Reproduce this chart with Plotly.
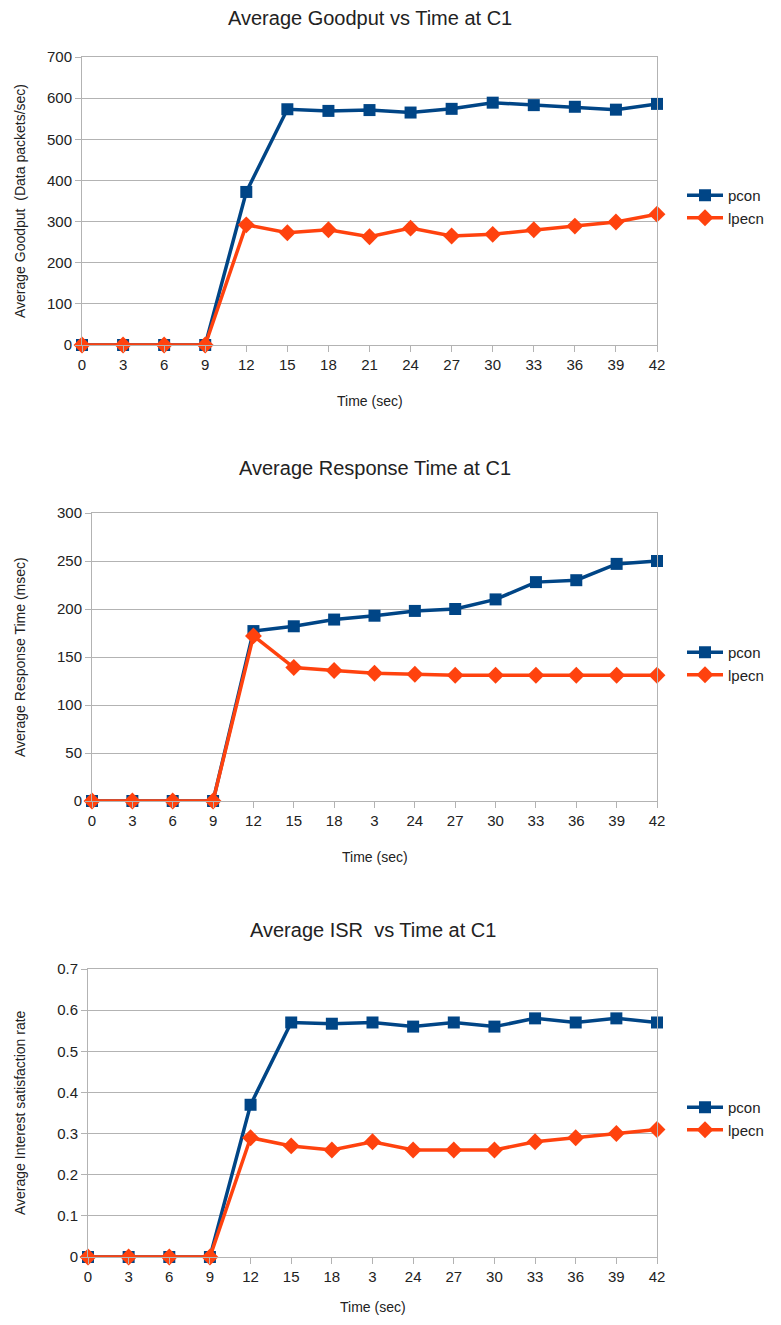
import plotly.graph_objects as go

# ---------------- data ----------------
time_labels_1 = ["0", "3", "6", "9", "12", "15", "18", "21", "24", "27", "30", "33", "36", "39", "42"]
time_labels_2 = ["0", "3", "6", "9", "12", "15", "18", "3", "24", "27", "30", "33", "36", "39", "42"]
time_labels_3 = ["0", "3", "6", "9", "12", "15", "18", "3", "24", "27", "30", "33", "36", "39", "42"]

goodput_pcon = [0, 0, 0, 0, 372, 573, 569, 571, 565, 574, 589, 583, 579, 572, 586]
goodput_lpecn = [0, 0, 0, 0, 292, 273, 280, 263, 284, 265, 269, 280, 289, 299, 318]

resp_pcon = [0, 0, 0, 0, 177, 182, 189, 193, 198, 200, 210, 228, 230, 247, 250]
resp_lpecn = [0, 0, 0, 0, 172, 139, 136, 133, 132, 131, 131, 131, 131, 131, 131]

isr_pcon = [0, 0, 0, 0, 0.37, 0.57, 0.567, 0.57, 0.56, 0.57, 0.56, 0.58, 0.57, 0.58, 0.57]
isr_lpecn = [0, 0, 0, 0, 0.29, 0.27, 0.26, 0.28, 0.26, 0.26, 0.26, 0.28, 0.29, 0.30, 0.31]

titles = ["Average Goodput vs Time at C1", "Average Response Time at C1", "Average ISR  vs Time at C1"]
y_titles = ["Average Goodput  (Data packets/sec)", "Average Response Time (msec)", "Average Interest satisfaction rate"]
x_title = "Time (sec)"
y_ranges = [[0, 700], [0, 300], [0, 0.7]]
y_dticks = [100, 50, 0.1]

# ---------------- layout helpers ----------------
W, H = 781, 1325          # window size
OFF = 8                   # default page body margin
FW, FH = W - 2 * OFF, H - 2 * OFF   # figure size
BLUE = "#004586"
ORANGE = "#ff420e"
FONT = "Liberation Sans, Arial, sans-serif"


def px_x(x):
    return (x - OFF) / FW


def px_y(y):
    return 1 - (y - OFF) / FH


# pixel boxes in window coordinates: (left, right, top, bottom)
boxes = [(82, 657, 57, 345), (92, 657, 513, 801), (88, 657, 969, 1257)]
title_y = [18, 468, 930]
legend_y = [196, 653, 1108]

panels = [
    (time_labels_1, goodput_pcon, goodput_lpecn),
    (time_labels_2, resp_pcon, resp_lpecn),
    (time_labels_3, isr_pcon, isr_lpecn),
]

fig = go.Figure()
annotations = []
layout = {}

for i, (labels, pcon, lpecn) in enumerate(panels):
    n = i + 1
    xa = "x" if n == 1 else f"x{n}"
    ya = "y" if n == 1 else f"y{n}"
    leg = "legend" if n == 1 else f"legend{n}"
    xs = list(range(len(labels)))
    fig.add_trace(go.Scatter(
        x=xs, y=pcon, name="pcon", xaxis=xa, yaxis=ya, legend=leg,
        mode="lines+markers", cliponaxis=False,
        line=dict(color=BLUE, width=3.5),
        marker=dict(symbol="square", size=12, color=BLUE),
    ))
    fig.add_trace(go.Scatter(
        x=xs, y=lpecn, name="lpecn", xaxis=xa, yaxis=ya, legend=leg,
        mode="lines+markers", cliponaxis=False,
        line=dict(color=ORANGE, width=3.5),
        marker=dict(symbol="diamond", size=13, color=ORANGE),
    ))
    l, r, t, b = boxes[i]
    xkey = "xaxis" if n == 1 else f"xaxis{n}"
    ykey = "yaxis" if n == 1 else f"yaxis{n}"
    layout[xkey] = dict(
        domain=[px_x(l), px_x(r)], anchor=ya, range=[0, len(labels) - 1], automargin=False,
        tickmode="array", tickvals=xs, ticktext=labels,
        showgrid=False, zeroline=False,
        showline=True, linecolor="#b3b3b3", linewidth=1, mirror=True,
        ticks="outside", ticklen=6, tickcolor="#b3b3b3",
        tickfont=dict(family=FONT, size=15, color="#222222"),
    )
    layout[ykey] = dict(
        domain=[px_y(b), px_y(t)], anchor=xa, range=y_ranges[i], dtick=y_dticks[i],
        automargin=False,
        showgrid=True, gridcolor="#b3b3b3", gridwidth=1, zeroline=False,
        showline=True, linecolor="#b3b3b3", linewidth=1, mirror=True,
        ticks="outside", ticklen=6, tickcolor="#b3b3b3",
        tickfont=dict(family=FONT, size=15, color="#222222"),
    )
    layout[leg] = dict(
        x=px_x(682), y=px_y(legend_y[i] - 17), xanchor="left", yanchor="top",
        bgcolor="rgba(0,0,0,0)", font=dict(family=FONT, size=15, color="#222222"),
        tracegroupgap=0, itemwidth=36,
    )
    # chart title
    annotations.append(dict(
        text=titles[i], x=px_x((l + r) / 2), y=px_y(title_y[i]), xref="paper", yref="paper",
        xanchor="center", yanchor="middle", showarrow=False,
        font=dict(family=FONT, size=20, color="#222222"),
    ))
    # x-axis title (kept inside the figure at the bottom)
    annotations.append(dict(
        text=x_title, x=px_x((l + r) / 2), y=px_y(min(b + 56, OFF + FH - 10)), xref="paper", yref="paper",
        xanchor="center", yanchor="middle", showarrow=False,
        font=dict(family=FONT, size=14, color="#222222"),
    ))
    # y-axis title
    annotations.append(dict(
        text=y_titles[i], x=px_x(20), y=px_y((t + b) / 2), xref="paper", yref="paper",
        xanchor="center", yanchor="middle", showarrow=False, textangle=-90,
        font=dict(family=FONT, size=14, color="#222222"),
    ))

fig.update_layout(
    width=FW, height=FH, margin=dict(l=0, r=0, t=0, b=0, autoexpand=False),
    paper_bgcolor="white", plot_bgcolor="white",
    annotations=annotations, **layout,
)
fig.write_html("out.html")
